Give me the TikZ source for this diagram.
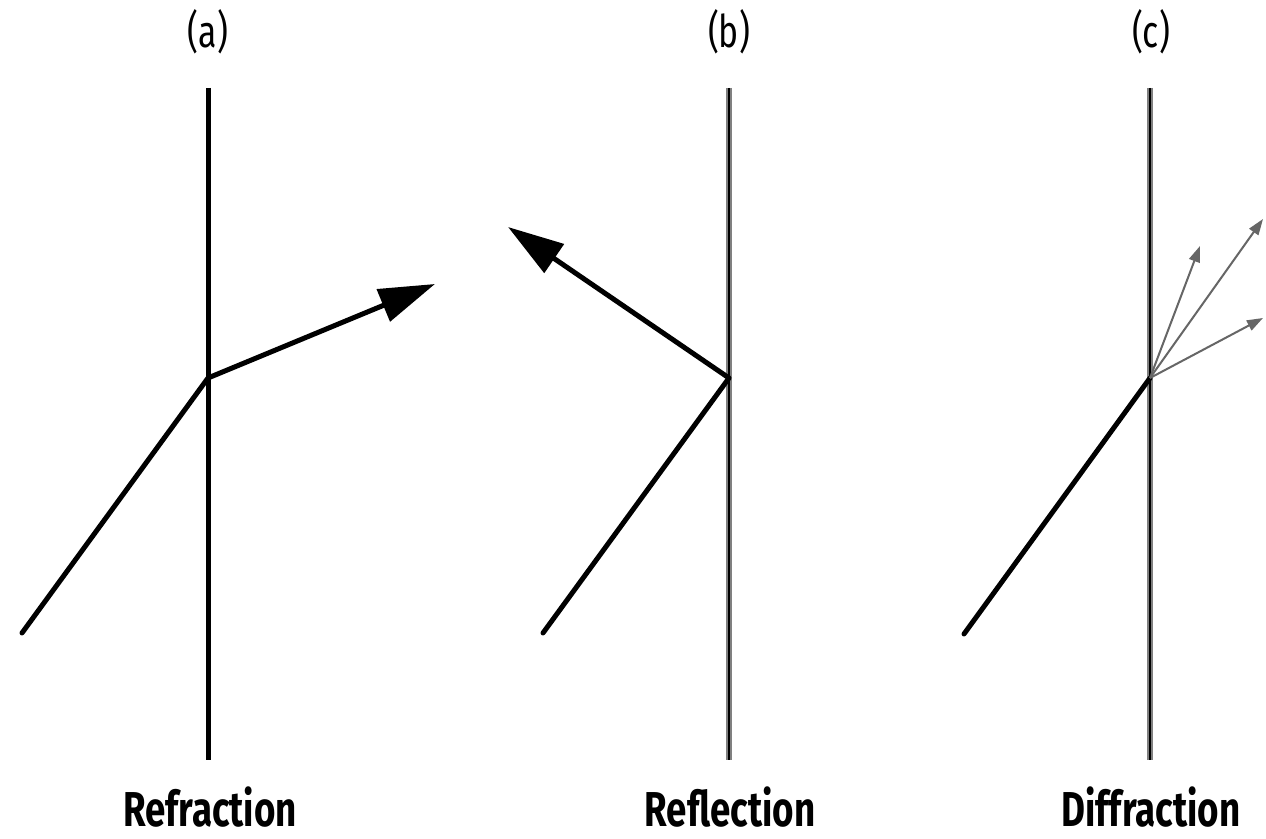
\documentclass[tikz,border=0pt]{standalone}
\usepackage{fontspec}
\newfontfamily\lab[FakeStretch=0.75]{Fira Sans}
\usetikzlibrary{arrows.meta}
\begin{document}
\begin{tikzpicture}[x=0.5pt,y=-0.5pt,
  wall/.style={line width=2.5pt,black},
  wallg/.style={line width=2.8pt,black!50},
  wallc/.style={line width=1.3pt,black},
  ray/.style={line width=2.5pt,black},
  bigarrow/.style={ray,-{Triangle[length=28pt,width=17pt]}},
  thinarrow/.style={line width=1pt,black!60,-{Triangle[length=8pt,width=5.5pt]}},
  toplabel/.style={font=\lab\fontsize{22.5}{26}\selectfont,anchor=base,inner sep=0pt},
  botlabel/.style={font=\lab\bfseries\fontsize{24.5}{28}\selectfont,anchor=base,inner sep=0pt}]
\fill[white] (0,0) rectangle (1266,839);
\useasboundingbox (0,0) rectangle (1266,839);
% panel (a)
\coordinate (aT) at (208,88);
\coordinate (aB) at (208,760);
\coordinate (aO) at (208,378);
\coordinate (aS) at (22,633);
\coordinate (aE) at (435,284);
\draw[wall] (aT) -- (aB);
\draw[ray,line cap=round] (aS) -- (aO);
\draw[bigarrow] (aO) -- (aE);
\node[toplabel] (la) at (208,48) {(a)};
\node[botlabel] (lra) at (210,827) {Refraction};
% panel (b)
\coordinate (bT) at (729,88);
\coordinate (bB) at (729,760);
\coordinate (bO) at (729,378);
\coordinate (bS) at (543,633);
\coordinate (bE) at (508,227);
\draw[wallg] (bT) -- (bB);
\draw[wallc] (bT) -- (bB);
\draw[ray,line cap=round] (bS) -- (bO);
\draw[bigarrow] (bO) -- (bE);
\node[toplabel] (lb) at (729,48) {(b)};
\node[botlabel] (lrb) at (730,827) {Reflection};
% panel (c)
\coordinate (cT) at (1150,88);
\coordinate (cB) at (1150,760);
\coordinate (cO) at (1150,378);
\coordinate (cS) at (964,634);
\coordinate (c1) at (1200,246);
\coordinate (c2) at (1263,219);
\coordinate (c3) at (1263,318);
\draw[wallg] (cT) -- (cB);
\draw[wallc] (cT) -- (cB);
\draw[ray,line cap=round] (cS) -- (cO);
\draw[thinarrow] (cO) -- (c1);
\draw[thinarrow] (cO) -- (c2);
\draw[thinarrow] (cO) -- (c3);
\node[toplabel] (lc) at (1151,48) {(c)};
\node[botlabel] (lrc) at (1151,827) {Diffraction};
\end{tikzpicture}
\end{document}
